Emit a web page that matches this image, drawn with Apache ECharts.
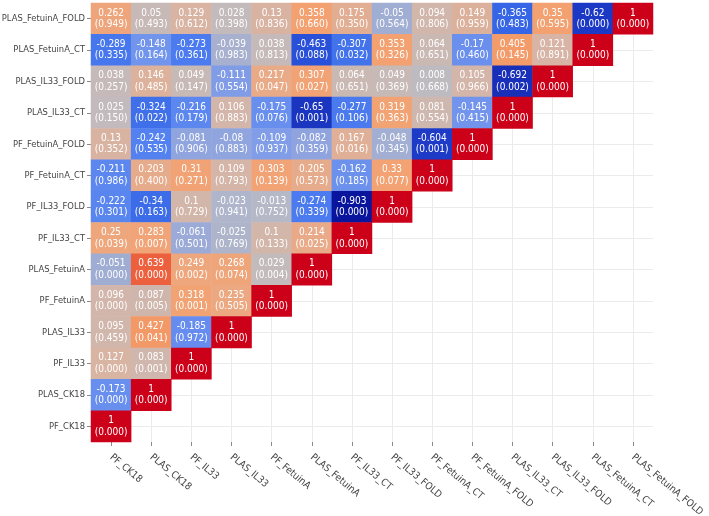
<!DOCTYPE html>
<html>
<head>
<meta charset="utf-8">
<script src="https://cdn.jsdelivr.net/npm/echarts@6/dist/echarts.min.js"></script>
<style>
html, body { margin: 0; padding: 0; background: #fff; }
#main { width: 709px; height: 516px; }
</style>
</head>
<body>
<div id="main"></div>
<script>
// x categories, left to right
var xCats = ['PF_CK18', 'PLAS_CK18', 'PF_IL33', 'PLAS_IL33', 'PF_FetuinA', 'PLAS_FetuinA',
	'PF_IL33_CT', 'PF_IL33_FOLD', 'PF_FetuinA_CT', 'PF_FetuinA_FOLD',
	'PLAS_IL33_CT', 'PLAS_IL33_FOLD', 'PLAS_FetuinA_CT', 'PLAS_FetuinA_FOLD'];
// y categories, top to bottom
var yCats = ['PLAS_FetuinA_FOLD', 'PLAS_FetuinA_CT', 'PLAS_IL33_FOLD', 'PLAS_IL33_CT',
	'PF_FetuinA_FOLD', 'PF_FetuinA_CT', 'PF_IL33_FOLD', 'PF_IL33_CT',
	'PLAS_FetuinA', 'PF_FetuinA', 'PLAS_IL33', 'PF_IL33', 'PLAS_CK18', 'PF_CK18'];

// correlation, one row per y category (top to bottom)
var corr = [
	[0.262, 0.05, 0.129, 0.028, 0.13, 0.358, 0.175, -0.05, 0.094, 0.149, -0.365, 0.35, -0.62, 1],
	[-0.289, -0.148, -0.273, -0.039, 0.038, -0.463, -0.307, 0.353, 0.064, -0.17, 0.405, 0.121, 1],
	[0.038, 0.146, 0.049, -0.111, 0.217, 0.307, 0.064, 0.049, 0.008, 0.105, -0.692, 1],
	[0.025, -0.324, -0.216, 0.106, -0.175, -0.65, -0.277, 0.319, 0.081, -0.145, 1],
	[0.13, -0.242, -0.081, -0.08, -0.109, -0.082, 0.167, -0.048, -0.604, 1],
	[-0.211, 0.203, 0.31, 0.109, 0.303, 0.205, -0.162, 0.33, 1],
	[-0.222, -0.34, 0.1, -0.023, -0.013, -0.274, -0.903, 1],
	[0.25, 0.283, -0.061, -0.025, 0.1, 0.214, 1],
	[-0.051, 0.639, 0.249, 0.268, 0.029, 1],
	[0.096, 0.087, 0.318, 0.235, 1],
	[0.095, 0.427, -0.185, 1],
	[0.127, 0.083, 1],
	[-0.173, 1],
	[1]
];
// p values, same layout
var pval = [
	[0.949, 0.493, 0.612, 0.398, 0.836, 0.660, 0.350, 0.564, 0.806, 0.959, 0.483, 0.595, 0.000, 0.000],
	[0.335, 0.164, 0.361, 0.983, 0.813, 0.088, 0.032, 0.326, 0.651, 0.460, 0.145, 0.891, 0.000],
	[0.257, 0.485, 0.147, 0.554, 0.047, 0.027, 0.651, 0.369, 0.668, 0.966, 0.002, 0.000],
	[0.150, 0.022, 0.179, 0.883, 0.076, 0.001, 0.106, 0.363, 0.554, 0.415, 0.000],
	[0.352, 0.535, 0.906, 0.883, 0.937, 0.359, 0.016, 0.345, 0.001, 0.000],
	[0.986, 0.400, 0.271, 0.793, 0.139, 0.573, 0.185, 0.077, 0.000],
	[0.301, 0.163, 0.729, 0.941, 0.752, 0.339, 0.000, 0.000],
	[0.039, 0.007, 0.501, 0.769, 0.133, 0.025, 0.000],
	[0.000, 0.000, 0.002, 0.074, 0.004, 0.000],
	[0.000, 0.005, 0.001, 0.505, 0.000],
	[0.459, 0.041, 0.972, 0.000],
	[0.000, 0.001, 0.000],
	[0.000, 0.000],
	[0.000]
];

var colorStops = ['#000a8c', '#0a18a0', '#1428b0', '#1c38c4', '#2448d4', '#3464e4', '#5080f0', '#7898ec',
	'#bcbcc2', '#d8b4a4', '#eea67c', '#f4a06e', '#f28c5c', '#ee6440', '#e44030', '#d82020', '#cc0018'];

var fontFam = "'Liberation Sans Narrow', 'DejaVu Sans Condensed', 'Liberation Sans', sans-serif";

var heatData = [];
for (var r = 0; r < corr.length; r++) {
	for (var c = 0; c < corr[r].length; c++) {
		heatData.push([c, r, corr[r][c], pval[r][c]]);
	}
}

// light grid lines through the category centres
var gridLines = [];
for (var i = 0; i < xCats.length; i++) {
	gridLines.push({ xAxis: xCats[i] });
}
for (var j = 0; j < yCats.length; j++) {
	gridLines.push({ yAxis: yCats[j] });
}

var option = {
	backgroundColor: '#fff',
	animation: false,
	grid: { left: 91, top: 3, right: 56, bottom: 74, outerBoundsMode: 'none', containLabel: false },
	xAxis: {
		type: 'category',
		data: xCats,
		axisLine: { show: false },
		axisTick: { show: true, alignWithLabel: true, length: 4, lineStyle: { color: '#888' } },
		axisLabel: { rotate: -40, margin: 14, fontSize: 10, color: '#444', fontFamily: fontFam, interval: 0 },
		splitLine: { show: false }
	},
	yAxis: {
		type: 'category',
		data: yCats,
		inverse: true,
		axisLine: { show: false },
		axisTick: { show: true, alignWithLabel: true, length: 4, lineStyle: { color: '#888' } },
		axisLabel: { margin: 6, fontSize: 9.3, color: '#444', fontFamily: fontFam, interval: 0 },
		splitLine: { show: false }
	},
	visualMap: {
		show: false,
		min: -1,
		max: 1,
		dimension: 2,
		seriesIndex: 1,
		inRange: { color: colorStops }
	},
	series: [{
		type: 'line',
		data: [],
		silent: true,
		markLine: {
			silent: true,
			symbol: 'none',
			animation: false,
			label: { show: false },
			lineStyle: { color: '#ebebeb', width: 1, type: 'solid' },
			data: gridLines
		}
	}, {
		type: 'heatmap',
		zlevel: 1,
		data: heatData,
		label: {
			show: true,
			color: '#fff',
			fontSize: 10,
			lineHeight: 11.5,
			fontFamily: fontFam,
			formatter: function (p) {
				return String(p.value[2]) + '\n(' + p.value[3].toFixed(3) + ')';
			}
		},
		itemStyle: { borderWidth: 0 }
	}]
};

echarts.init(document.getElementById('main')).setOption(option);
</script>
</body>
</html>
